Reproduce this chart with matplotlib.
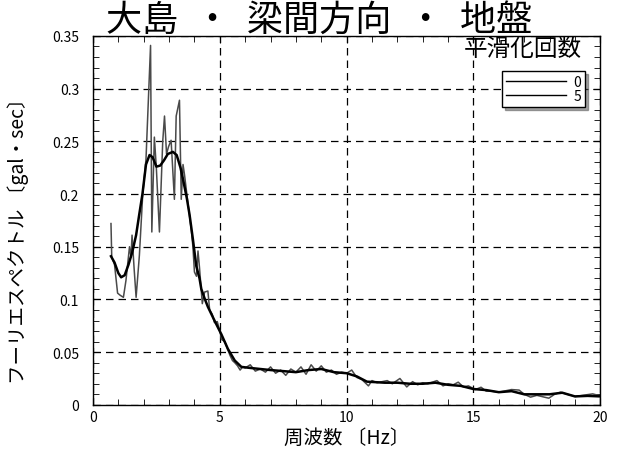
import matplotlib.pyplot as plt
from matplotlib.ticker import MultipleLocator

plt.rcParams['font.family'] = ['Noto Sans CJK JP', 'DejaVu Sans']

# raw spectrum (smoothing count 0)
raw_f = [0.71, 0.74, 0.85, 0.97, 1.07, 1.20, 1.30, 1.44, 1.50, 1.54, 1.62, 1.70,
         1.83, 1.96, 2.09, 2.27, 2.32, 2.42, 2.50, 2.62, 2.75, 2.82, 2.90, 2.98,
         3.08, 3.21, 3.28, 3.41, 3.48, 3.55, 3.61, 3.75, 3.88, 3.94, 4.00, 4.08,
         4.14, 4.20, 4.31, 4.40, 4.53, 4.60, 4.70, 4.79, 4.90, 5.00, 5.07, 5.20,
         5.32, 5.40, 5.50, 5.59, 5.70, 5.80, 5.90,
         6.0, 6.2, 6.4, 6.6, 6.8, 7.0, 7.2, 7.4, 7.6, 7.8, 8.0, 8.2, 8.4, 8.6,
         8.8, 9.0, 9.2, 9.4, 9.6, 9.8, 10.0, 10.2, 10.4, 10.6, 10.86, 11.0, 11.2,
         11.4, 11.6, 11.8, 12.1, 12.37, 12.6, 12.8, 13.0, 13.2, 13.56, 13.8, 14.0,
         14.2, 14.4, 14.6, 14.8, 15.07, 15.3, 15.5, 15.7, 16.0, 16.2, 16.5, 16.8,
         17.0, 17.25, 17.5, 17.97, 18.2, 18.43, 18.7, 19.02, 19.3, 19.7, 20.0]
raw_v = [0.172, 0.140, 0.133, 0.106, 0.104, 0.102, 0.118, 0.150, 0.140, 0.161, 0.130, 0.102,
         0.142, 0.199, 0.233, 0.341, 0.164, 0.254, 0.224, 0.164, 0.250, 0.274, 0.238, 0.245,
         0.251, 0.195, 0.274, 0.289, 0.195, 0.228, 0.218, 0.190, 0.165, 0.150, 0.126, 0.122,
         0.146, 0.130, 0.096, 0.107, 0.108, 0.090, 0.086, 0.078, 0.079, 0.070, 0.062, 0.060,
         0.052, 0.047, 0.042, 0.040, 0.037, 0.033, 0.036,
         0.035, 0.038, 0.032, 0.034, 0.031, 0.036, 0.030, 0.033, 0.028, 0.034, 0.031, 0.036, 0.029, 0.038,
         0.032, 0.037, 0.031, 0.033, 0.029, 0.031, 0.030, 0.033, 0.026, 0.024, 0.018, 0.023, 0.021,
         0.022, 0.023, 0.020, 0.025, 0.017, 0.022, 0.019, 0.021, 0.020, 0.023, 0.018, 0.020,
         0.019, 0.0215, 0.017, 0.018, 0.0145, 0.0167, 0.013, 0.013, 0.012, 0.013, 0.0145, 0.014,
         0.010, 0.0073, 0.009, 0.0063, 0.010, 0.012, 0.010, 0.0079, 0.009, 0.0104, 0.0085]

# smoothed spectrum (smoothing count 5)
smooth_f = [0.71, 0.85, 1.0, 1.11, 1.25, 1.4, 1.55, 1.70, 1.82, 1.95, 2.09, 2.23,
            2.35, 2.5, 2.65, 2.8, 2.95, 3.15, 3.3, 3.45, 3.55, 3.7, 3.81, 3.94,
            4.07, 4.2, 4.27, 4.4, 4.53, 4.79, 5.06, 5.32, 5.59, 5.85, 6.2, 6.6,
            7.0, 7.5, 8.0, 8.5, 9.0, 9.5, 10.0, 10.4, 10.8, 11.5, 12.0, 12.5,
            13.0, 13.5, 14.0, 14.5, 15.0, 15.5, 16.0, 16.5, 17.0, 17.5, 18.0, 18.5,
            19.0, 19.5, 20.0]
smooth_v = [0.141, 0.135, 0.125, 0.121, 0.123, 0.133, 0.145, 0.161, 0.180, 0.200, 0.228, 0.237,
            0.235, 0.226, 0.227, 0.232, 0.238, 0.240, 0.237, 0.225, 0.214, 0.196, 0.180, 0.157,
            0.132, 0.120, 0.110, 0.101, 0.093, 0.080, 0.067, 0.053, 0.042, 0.036, 0.035, 0.034,
            0.033, 0.032, 0.031, 0.033, 0.034, 0.031, 0.030, 0.027, 0.022, 0.021, 0.021, 0.020,
            0.020, 0.021, 0.019, 0.018, 0.015, 0.014, 0.012, 0.013, 0.010, 0.010, 0.010, 0.0115,
            0.008, 0.0085, 0.008]

fig = plt.figure(figsize=(6.24, 4.56), dpi=100)
ax = fig.add_axes([0.149, 0.110, 0.813, 0.809])

l0, = ax.plot(raw_f, raw_v, color='#4a4a4a', lw=1.1, label='0')
l5, = ax.plot(smooth_f, smooth_v, color='black', lw=1.8, label='5')

ax.set_xlim(0, 20)
ax.set_ylim(0, 0.35)
ax.xaxis.set_major_locator(MultipleLocator(5))
ax.xaxis.set_minor_locator(MultipleLocator(1))
ax.yaxis.set_major_locator(MultipleLocator(0.05))
ax.yaxis.set_minor_locator(MultipleLocator(0.01))
ax.yaxis.set_major_formatter(plt.FuncFormatter(lambda v, p: '0' if v == 0 else f'{v:.2f}'.rstrip('0')))
ax.tick_params(which='both', direction='in', top=True, right=True, labelsize=10)
ax.tick_params(which='major', length=5)
ax.tick_params(which='minor', length=4)
ax.tick_params(axis='y', pad=10)
ax.grid(True, which='major', color='black', linestyle=(0, (6, 4)), lw=0.9)
for s in ax.spines.values():
    s.set_linewidth(1.0)

fig.text(0.170, 0.955, '大島  ・  梁間方向  ・  地盤', fontsize=26, ha='left', va='center')
ax.set_xlabel('周波数 〔Hz〕', fontsize=14, labelpad=2)
ax.set_ylabel('フーリエスペクトル 〔gal・sec〕', fontsize=14)
ax.yaxis.set_label_coords(-0.126, 0.46)

ax.text(0.964, 0.965, '平滑化回数', transform=ax.transAxes, ha='right', va='center', fontsize=17)
leg = ax.legend(handles=[l0, l5], loc='upper right', bbox_to_anchor=(0.97, 0.905),
                borderaxespad=0, fancybox=False, shadow=True, fontsize=10,
                handlelength=4.3, labelspacing=0.0, borderpad=0.3, handletextpad=0.5)
leg.get_frame().set_edgecolor('black')
leg.get_frame().set_linewidth(1.0)
for h in leg.get_lines():
    h.set_color('black')
    h.set_linewidth(1.0)

fig.savefig('out.png', dpi=100)
